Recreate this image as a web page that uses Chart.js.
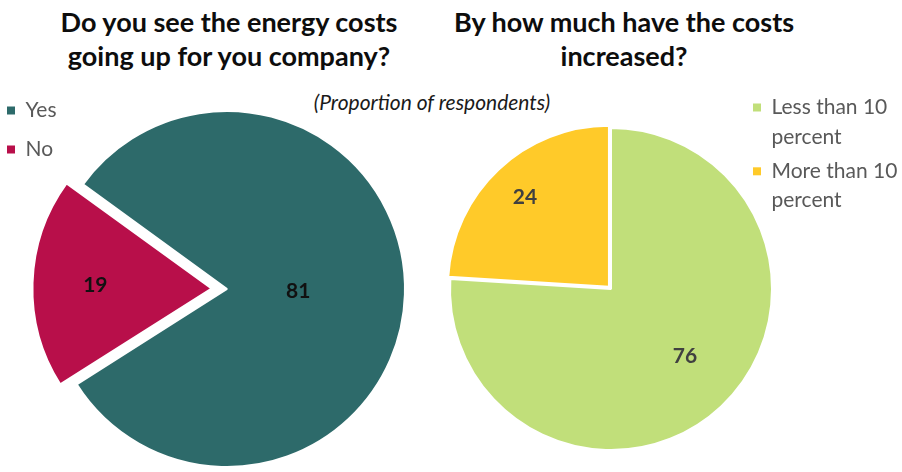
<!DOCTYPE html>
<html>
<head>
<meta charset="utf-8">
<script src="https://cdn.jsdelivr.net/npm/chart.js@4.4.1/dist/chart.umd.min.js"></script>
<style>
  html, body { margin: 0; padding: 0; width: 902px; height: 472px; overflow: hidden; background: #fff; }
  .title {
    position: absolute; font-family: Lato, "Open Sans", sans-serif; font-weight: 700;
    font-size: 27px; line-height: 34px; color: #0d0d0d; text-align: center; white-space: nowrap;
  }
  .note {
    position: absolute; font-family: Lato, "Open Sans", sans-serif; font-style: italic;
    font-size: 21px; line-height: 26px; color: #1a1a1a; text-align: center; white-space: nowrap;
  }
  canvas { position: absolute; }
</style>
</head>
<body>
<div class="title" style="left:29px; width:400px; top:5px;">Do you see the energy costs<br>going up for you company?</div>
<div class="title" style="left:424px; width:400px; top:5px;">By how much have the costs<br>increased?</div>
<div class="note" style="left:282px; width:300px; top:89px;">(Proportion of respondents)</div>
<canvas id="costsUp" width="476" height="414" style="left:-11px; top:82px;"></canvas>
<canvas id="costsIncrease" width="462" height="486" style="left:440px; top:0;"></canvas>
<script>
// Survey answers, share of respondents (%)
const upCategories = ['Yes', 'No'];
const upValues = [81, 19];
const upColors = ['#2d6a6a', '#b80f4a'];

const increaseCategories = ['Less than 10 percent', 'More than 10 percent'];
const increaseValues = [76, 24];
const increaseColors = ['#c1df7a', '#ffca29'];

const FONT = 'Lato, "Open Sans", sans-serif';

// Break a legend label into lines of at most `max` characters
function wrapLabel(text, max) {
  const words = text.split(' ');
  const lines = [];
  let line = '';
  words.forEach(w => {
    const next = line ? line + ' ' + w : w;
    if (next.length > max && line) { lines.push(line); line = w; }
    else line = next;
  });
  if (line) lines.push(line);
  return lines.length > 1 ? lines : lines[0];
}

// Writes each slice's value inside the slice
const sliceLabels = {
  id: 'sliceLabels',
  afterDatasetsDraw(chart, args, opts) {
    const ctx = chart.ctx;
    const meta = chart.getDatasetMeta(0);
    const values = chart.data.datasets[0].data;
    ctx.save();
    ctx.font = opts.font;
    ctx.fillStyle = opts.color;
    ctx.textAlign = 'center';
    ctx.textBaseline = 'middle';
    meta.data.forEach((arc, i) => {
      const p = arc.getProps(['x', 'y', 'startAngle', 'endAngle', 'outerRadius'], true);
      const mid = (p.startAngle + p.endAngle) / 2 + (opts.turn ? opts.turn[i] : 0);
      const r = p.outerRadius * opts.radius[i];
      ctx.fillText(String(values[i]), p.x + Math.cos(mid) * r, p.y + Math.sin(mid) * r);
    });
    ctx.restore();
  }
};

function legendItems(maxChars) {
  return chart => Chart.controllers.pie.overrides.plugins.legend.labels.generateLabels(chart)
    .map(item => Object.assign(item, {
      text: maxChars ? wrapLabel(item.text, maxChars) : item.text,
      lineWidth: 0,
      strokeStyle: 'rgba(0,0,0,0)'
    }));
}

new Chart(document.getElementById('costsUp'), {
  type: 'pie',
  data: {
    labels: upCategories,
    datasets: [{
      data: upValues,
      backgroundColor: upColors,
      borderColor: '#ffffff',
      borderWidth: 2,
      offset: [0, 62],
      radius: 178
    }]
  },
  plugins: [sliceLabels],
  options: {
    responsive: false,
    animation: false,
    rotation: 306,
    layout: { padding: 0 },
    plugins: {
      tooltip: { enabled: false },
      legend: {
        position: 'chartArea',
        align: 'start',
        labels: {
          boxWidth: 8, boxHeight: 8, padding: 18, color: '#595959',
          font: { family: FONT, size: 21 },
          generateLabels: legendItems(0)
        }
      },
      sliceLabels: { font: 'bold 21px ' + FONT, color: '#111111', radius: [0.40, 0.74] }
    }
  }
});

new Chart(document.getElementById('costsIncrease'), {
  type: 'pie',
  data: {
    labels: increaseCategories,
    datasets: [{
      data: increaseValues,
      backgroundColor: increaseColors,
      borderColor: '#ffffff',
      borderWidth: 2,
      offset: [0, 12],
      radius: 161
    }]
  },
  plugins: [sliceLabels],
  options: {
    responsive: false,
    animation: false,
    rotation: 0,
    layout: { padding: { top: 92, left: 34, right: 2, bottom: 0 } },
    plugins: {
      tooltip: { enabled: false },
      legend: {
        position: 'right',
        align: 'start',
        maxWidth: 152,
        labels: {
          boxWidth: 8, boxHeight: 8, padding: 5, color: '#595959',
          font: { family: FONT, size: 21, lineHeight: 1.4 },
          generateLabels: legendItems(12)
        }
      },
      sliceLabels: { font: 'bold 21px ' + FONT, color: '#404040', radius: [0.62, 0.78], turn: [-0.08, 0] }
    }
  }
});
</script>
</body>
</html>
